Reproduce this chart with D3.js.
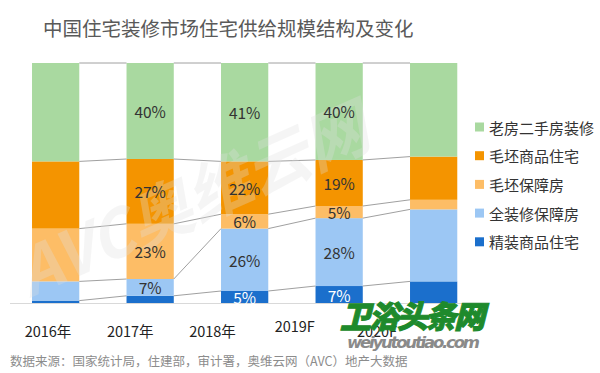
<!DOCTYPE html>
<meta charset="utf-8">
<style>
body { margin: 0; background: #fff; }
svg { font-family: "Noto Sans CJK SC", "Noto Sans", sans-serif; }
</style>
<svg width="600" height="373"></svg>
<script src="https://cdn.jsdelivr.net/npm/d3@7"></script>
<script>

// 年份与标签
var years = ["2016", "2017", "2018", "2019", "2020"];
var yearLabels = ["2016年", "2017年", "2018年", "2019F", "2020F"];
// 各类住宅占比（%），自下而上
var series = ["精装商品住宅", "全装修保障房", "毛坯保障房", "毛坯商品住宅", "老房二手房装修"];
var jingzhuang = [1, 3, 5, 7, 9];
var quanzhuang = [8, 7, 26, 28, 30];
var maopiBaozhang = [22, 23, 6, 5, 4];
var maopiShangpin = [28, 27, 22, 19, 18];
var laofang = [41, 40, 41, 40, 39];
// 哪些格子显示数据标签（按系列、按年份）
var labelOn = [
  [0, 0, 1, 1, 0],
  [0, 1, 1, 1, 0],
  [0, 1, 1, 1, 0],
  [0, 1, 1, 1, 0],
  [0, 1, 1, 1, 0]
];
var colors = ["#1b6fcc", "#9cc7f4", "#fdbd66", "#f49400", "#a9d9a0"];

var svg = d3.select("svg");

var table = years.map(function(y, i) {
  return {
    year: y,
    "精装商品住宅": jingzhuang[i],
    "全装修保障房": quanzhuang[i],
    "毛坯保障房": maopiBaozhang[i],
    "毛坯商品住宅": maopiShangpin[i],
    "老房二手房装修": laofang[i]
  };
});

var stack = d3.stack().keys(series).offset(d3.stackOffsetExpand);
var layers = stack(table);

var x = d3.scaleBand().domain(years).range([8.4, 480.9]).paddingInner(0.5).paddingOuter(0.25),
    y = d3.scaleLinear().domain([0, 1]).range([303, 63]),
    color = d3.scaleOrdinal().domain(series).range(colors),
    xl = d3.scalePoint().domain(years).range([48, 377]);

// 标题
svg.append("text")
    .attr("x", 43).attr("y", 27)
    .attr("dominant-baseline", "central")
    .attr("font-size", 19.5)
    .attr("fill", "#595959")
    .text("中国住宅装修市场住宅供给规模结构及变化");

// 柱子
svg.append("g").selectAll("g.layer")
  .data(layers)
  .enter().append("g")
    .attr("class", "layer")
    .attr("fill", function(d) { return color(d.key); })
  .selectAll("rect")
  .data(function(d) { return d; })
  .enter().append("rect")
    .attr("x", function(d) { return x(d.data.year); })
    .attr("y", function(d) { return y(d[1]); })
    .attr("width", x.bandwidth())
    .attr("height", function(d) { return y(d[0]) - y(d[1]); });

// 连接线
layers.forEach(function(l) {
  for (var i = 0; i < years.length - 1; i++) {
    svg.append("line")
        .attr("x1", x(years[i]) + x.bandwidth())
        .attr("y1", y(l[i][1]))
        .attr("x2", x(years[i + 1]))
        .attr("y2", y(l[i + 1][1]))
        .attr("stroke", "#a0a0a0")
        .attr("stroke-width", 1);
  }
});

// 坐标轴线
svg.append("line")
    .attr("x1", 10).attr("x2", 482)
    .attr("y1", y(0) + 0.5).attr("y2", y(0) + 0.5)
    .attr("stroke", "#d9d9d9");

// 水印（淡）
svg.append("text")
    .attr("transform", "translate(30,298) rotate(-24)")
    .attr("font-size", 64)
    .attr("font-weight", "bold")
    .attr("font-style", "italic")
    .attr("fill", "#e0e0e0")
    .attr("opacity", 0.3)
    .text("AVC奥维云网");

// 数据标签
layers.forEach(function(l, li) {
  svg.append("g").selectAll("text")
    .data(l.filter(function(d, i) { return labelOn[li][i]; }))
    .enter().append("text")
      .attr("x", function(d) { return x(d.data.year) + x.bandwidth() / 2; })
      .attr("y", function(d) { return (y(d[0]) + y(d[1])) / 2; })
      .attr("text-anchor", "middle")
      .attr("dominant-baseline", "central")
      .attr("font-size", 15.5)
      .attr("fill", li === 0 ? "#fff" : "#333")
      .text(function(d) { return d.data[l.key] + "%"; });
});

// 年份
svg.append("g").selectAll("text")
  .data(years)
  .enter().append("text")
    .attr("x", function(d) { return xl(d); })
    .attr("y", function(d, i) { return i === 3 ? 325 : 330; })
    .attr("text-anchor", "middle")
    .attr("dominant-baseline", "central")
    .attr("font-size", 14.5)
    .attr("fill", "#222")
    .text(function(d, i) { return yearLabels[i]; });

// 图例
var legend = svg.append("g").selectAll("g")
  .data(series.slice().reverse())
  .enter().append("g")
    .attr("transform", function(d, i) { return "translate(475," + (127 + i * 28.7) + ")"; });
legend.append("rect")
    .attr("y", -4.5).attr("width", 9).attr("height", 9)
    .attr("fill", function(d) { return color(d); });
legend.append("text")
    .attr("x", 14)
    .attr("dominant-baseline", "central")
    .attr("font-size", 15)
    .attr("fill", "#333")
    .text(function(d) { return d; });

// 数据来源
svg.append("text")
    .attr("x", 10).attr("y", 360)
    .attr("dominant-baseline", "central")
    .attr("font-size", 12.5)
    .attr("fill", "#8c8c8c")
    .text("数据来源：国家统计局，住建部，审计署，奥维云网（AVC）地产大数据");

// 右下角标识
svg.append("text")
    .attr("x", 340).attr("y", 314)
    .attr("dominant-baseline", "central")
    .attr("font-size", 31)
    .attr("font-weight", "900")
    .attr("font-style", "italic")
    .attr("fill", "#1e8a2c")
    .attr("stroke", "#1e8a2c")
    .attr("stroke-width", 1)
    .attr("textLength", 145)
    .text("卫浴头条网");
svg.append("text")
    .attr("x", 347).attr("y", 342)
    .attr("dominant-baseline", "central")
    .attr("font-family", "DejaVu Sans, sans-serif")
    .attr("font-size", 16.5)
    .attr("font-weight", "bold")
    .attr("font-style", "italic")
    .attr("fill", "#8a8a8a")
    .attr("textLength", 133)
    .text("weiyutoutiao.com");

</script>
